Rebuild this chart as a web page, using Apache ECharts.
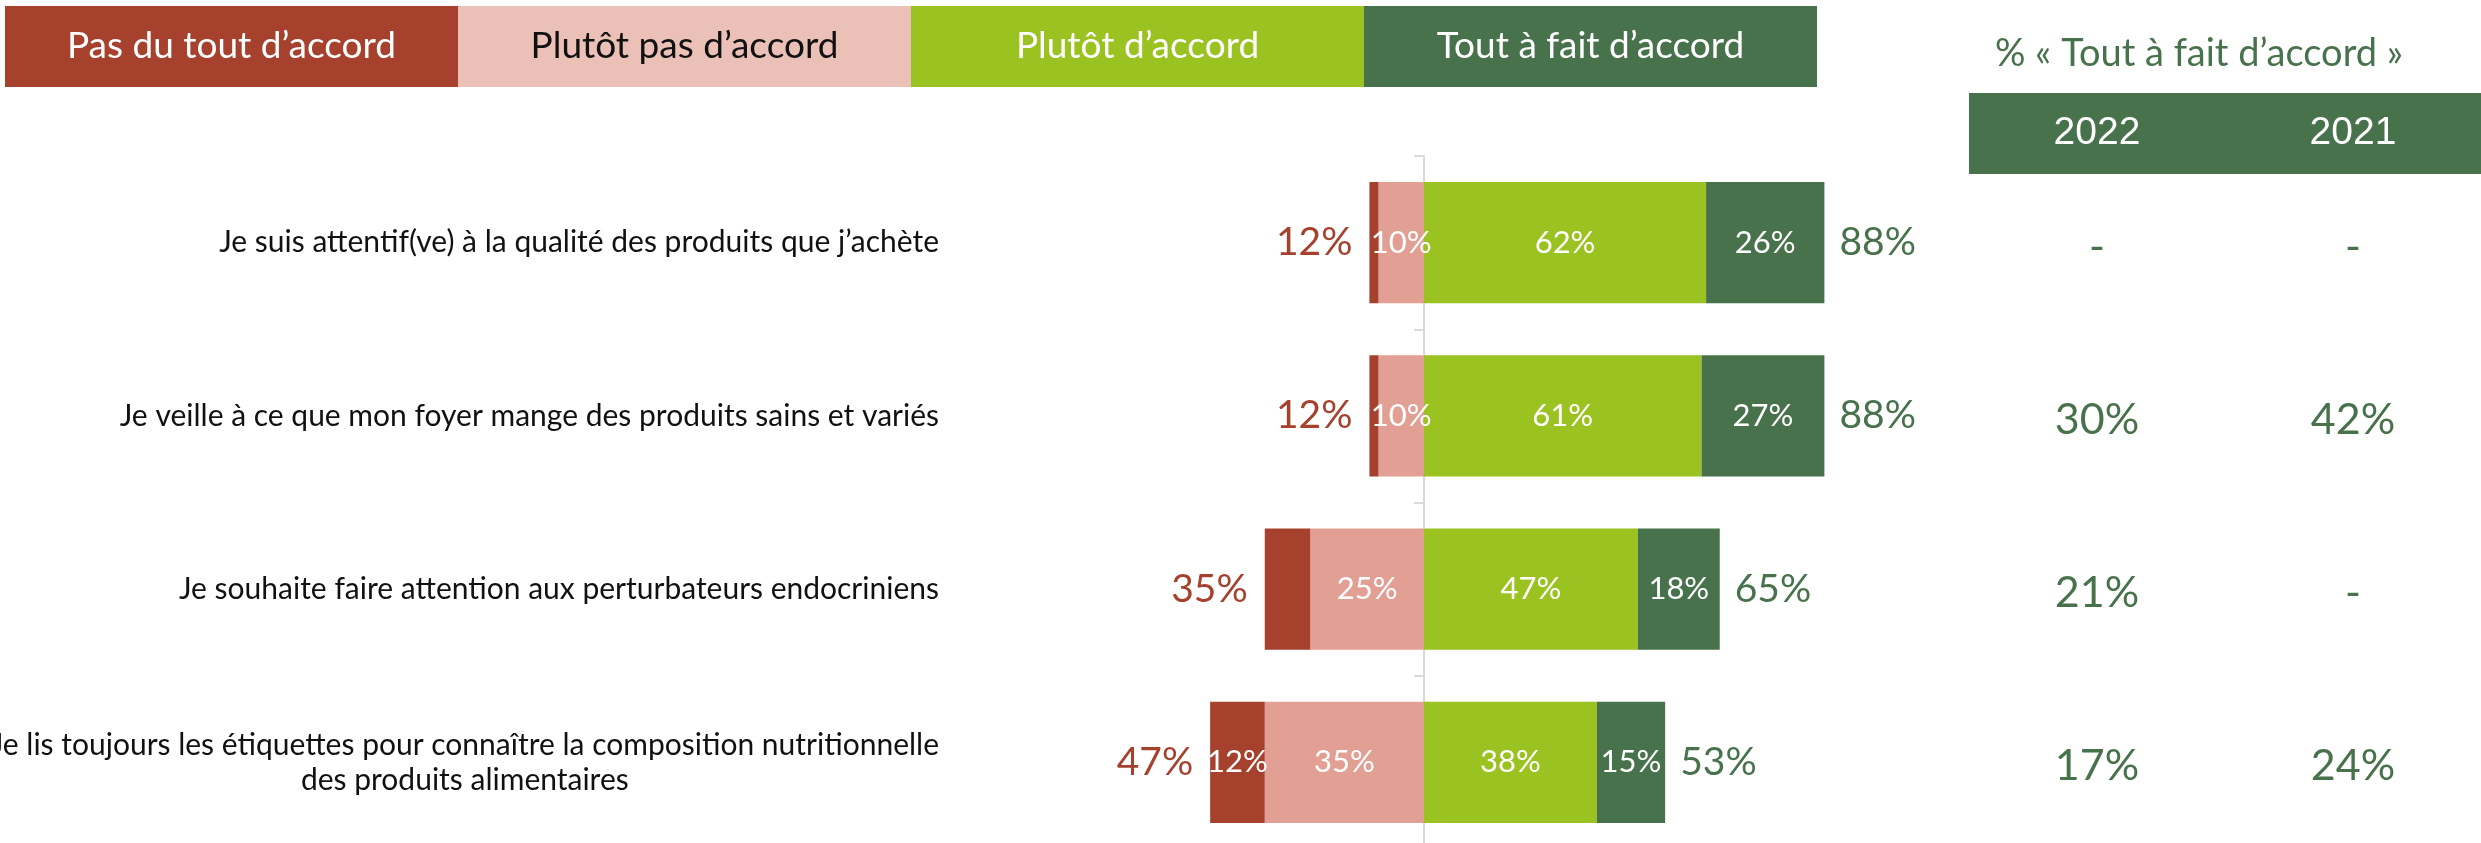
<!DOCTYPE html>
<html>
<head>
<meta charset="utf-8">
<title>Comportements alimentaires</title>
<script src="https://cdn.jsdelivr.net/npm/echarts@6/dist/echarts.min.js"></script>
<style>
    html, body { margin: 0; padding: 0; background: #ffffff; }
    #chart { width: 2481px; height: 843px; }
</style>
</head>
<body>
<div id="chart"></div>
<script>
// données (en %)
var categories = [
    'Je suis attentif(ve) à la qualité des produits que j’achète',
    'Je veille à ce que mon foyer mange des produits sains et variés',
    'Je souhaite faire attention aux perturbateurs endocriniens',
    'Je lis toujours les étiquettes pour connaître la composition nutritionnelle\ndes produits alimentaires'
];
var legendNames = ['Pas du tout d’accord', 'Plutôt pas d’accord', 'Plutôt d’accord', 'Tout à fait d’accord'];
var pasDuTout = [2, 2, 10, 12];
var plutotPas = [10, 10, 25, 35];
var plutot = [62, 61, 47, 38];
var toutAFait = [26, 27, 18, 15];
var totalDesaccord = [12, 12, 35, 47];
var totalAccord = [88, 88, 65, 53];
// seul le dernier "pas du tout" est étiqueté sur l'original
var etiquettePasDuTout = [false, false, false, true];

var annees = ['2022', '2021'];
var toutAFait2022 = [null, 30, 21, 17];
var toutAFait2021 = [null, 42, null, 24];

(function () {
    "use strict";

    var ROUGE = '#A5412D';
    var ROSE = '#E29F93';
    var ROSE_CLAIR = '#EBC0B6';
    var VERT = '#9AC220';
    var VERT_FONCE = '#48724C';
    var FONT = 'Lato';

    var tableau = [toutAFait2022, toutAFait2021];

    var pct = function (p) {
        return Math.abs(p.value) + '%';
    };

    var barLabel = {
        show: true,
        position: 'inside',
        color: '#ffffff',
        fontFamily: FONT,
        fontSize: 31,
        formatter: pct
    };

    // cellules du tableau de droite : [colonne, ligne]
    var cellules = [];
    for (var i = 0; i < categories.length; i++) {
        for (var j = 0; j < annees.length; j++) {
            cellules.push([j, i]);
        }
    }

    var legendRich = {};
    var legendColors = [ROUGE, ROSE_CLAIR, VERT, VERT_FONCE];
    var legendText = ['#ffffff', '#111111', '#ffffff', '#ffffff'];
    for (var k = 0; k < legendNames.length; k++) {
        legendRich['s' + k] = {
            width: 453,
            height: 81,
            lineHeight: 81,
            align: 'center',
            backgroundColor: legendColors[k],
            color: legendText[k],
            fontFamily: FONT,
            fontSize: 37
        };
    }

    var option = {
        animation: false,
        backgroundColor: '#ffffff',
        textStyle: { fontFamily: FONT },
        legend: {
            data: legendNames,
            left: 0,
            top: 6,
            padding: 0,
            itemGap: -5,
            itemWidth: 0,
            itemHeight: 0,
            icon: 'rect',
            selectedMode: false,
            formatter: function (name) {
                return '{s' + legendNames.indexOf(name) + '|' + name + '}';
            },
            textStyle: { rich: legendRich }
        },
        graphic: [{
            type: 'text',
            x: 2199,
            y: 54,
            style: {
                text: '% « Tout à fait d’accord »',
                align: 'center',
                verticalAlign: 'middle',
                fill: VERT_FONCE,
                fontFamily: FONT,
                fontSize: 38
            }
        }],
        grid: [
            { left: 969, right: 602, top: 156, bottom: -6, outerBoundsMode: 'none' },
            { left: 1969, right: 0, top: 156, bottom: -6, outerBoundsMode: 'none' }
        ],
        xAxis: [{
            gridIndex: 0,
            type: 'value',
            min: -100,
            max: 100,
            show: false
        }, {
            gridIndex: 1,
            type: 'category',
            data: annees,
            position: 'top',
            axisLine: { show: false },
            axisTick: { show: false },
            axisLabel: {
                interval: 0,
                hideOverlap: false,
                margin: -18,
                formatter: function (v) { return '{y|' + v + '}'; },
                rich: {
                    y: {
                        width: 256,
                        height: 81,
                        lineHeight: 81,
                        align: 'center',
                        backgroundColor: VERT_FONCE,
                        color: '#ffffff',
                        fontFamily: 'Liberation Sans',
                        fontSize: 39
                    }
                }
            }
        }],
        yAxis: [{
            gridIndex: 0,
            type: 'category',
            data: categories,
            inverse: true,
            axisLine: { show: true, onZero: true, lineStyle: { color: '#d9d9d9', width: 2 } },
            axisTick: { show: true, length: 10, lineStyle: { color: '#d9d9d9', width: 2 } },
            axisLabel: {
                interval: 0,
                // les libellés restent au bord gauche de la grille
                margin: 30,
                formatter: function (v) {
                    return v.split('\n').map(function (l) { return '{c|' + l + '}'; }).join('\n');
                },
                rich: {
                    c: { align: 'center', color: '#111111', fontFamily: FONT, fontSize: 30, lineHeight: 35 }
                }
            }
        }, {
            gridIndex: 1,
            type: 'category',
            data: categories,
            inverse: true,
            show: false
        }],
        series: [{
            name: legendNames[1],
            type: 'bar',
            stack: 'total',
            barWidth: '70%',
            itemStyle: { color: ROSE },
            label: barLabel,
            data: plutotPas.map(function (v) { return -v; })
        }, {
            name: legendNames[0],
            type: 'bar',
            stack: 'total',
            itemStyle: { color: ROUGE },
            label: barLabel,
            data: pasDuTout.map(function (v, i) {
                return { value: -v, label: { show: etiquettePasDuTout[i] } };
            })
        }, {
            name: legendNames[2],
            type: 'bar',
            stack: 'total',
            itemStyle: { color: VERT },
            label: barLabel,
            data: plutot
        }, {
            name: legendNames[3],
            type: 'bar',
            stack: 'total',
            itemStyle: { color: VERT_FONCE },
            label: barLabel,
            data: toutAFait
        }, {
            // totaux désaccord à gauche des barres
            type: 'scatter',
            symbolSize: 0,
            silent: true,
            itemStyle: { opacity: 1 },
            label: {
                show: true, position: 'left', distance: 17,
                color: ROUGE, fontFamily: FONT, fontSize: 39,
                formatter: function (p) { return totalDesaccord[p.dataIndex] + '%'; }
            },
            data: totalDesaccord.map(function (v, i) { return [-v, i]; })
        }, {
            // totaux accord à droite
            type: 'scatter',
            symbolSize: 0,
            silent: true,
            itemStyle: { opacity: 1 },
            label: {
                show: true, position: 'right', distance: 15,
                color: VERT_FONCE, fontFamily: FONT, fontSize: 39,
                formatter: function (p) { return totalAccord[p.dataIndex] + '%'; }
            },
            data: totalAccord.map(function (v, i) { return [v, i]; })
        }, {
            // tableau % tout à fait d'accord 2022 / 2021
            type: 'scatter',
            xAxisIndex: 1,
            yAxisIndex: 1,
            symbolSize: 0,
            silent: true,
            itemStyle: { opacity: 1 },
            label: {
                show: true, position: 'inside', offset: [0, 4],
                color: VERT_FONCE, fontFamily: FONT, fontSize: 43,
                formatter: function (p) {
                    var v = tableau[p.data[0]][p.data[1]];
                    return v == null ? '-' : v + '%';
                }
            },
            data: cellules
        }]
    };

    var chart = echarts.init(document.getElementById('chart'));
    chart.setOption(option);
})();
</script>
</body>
</html>
